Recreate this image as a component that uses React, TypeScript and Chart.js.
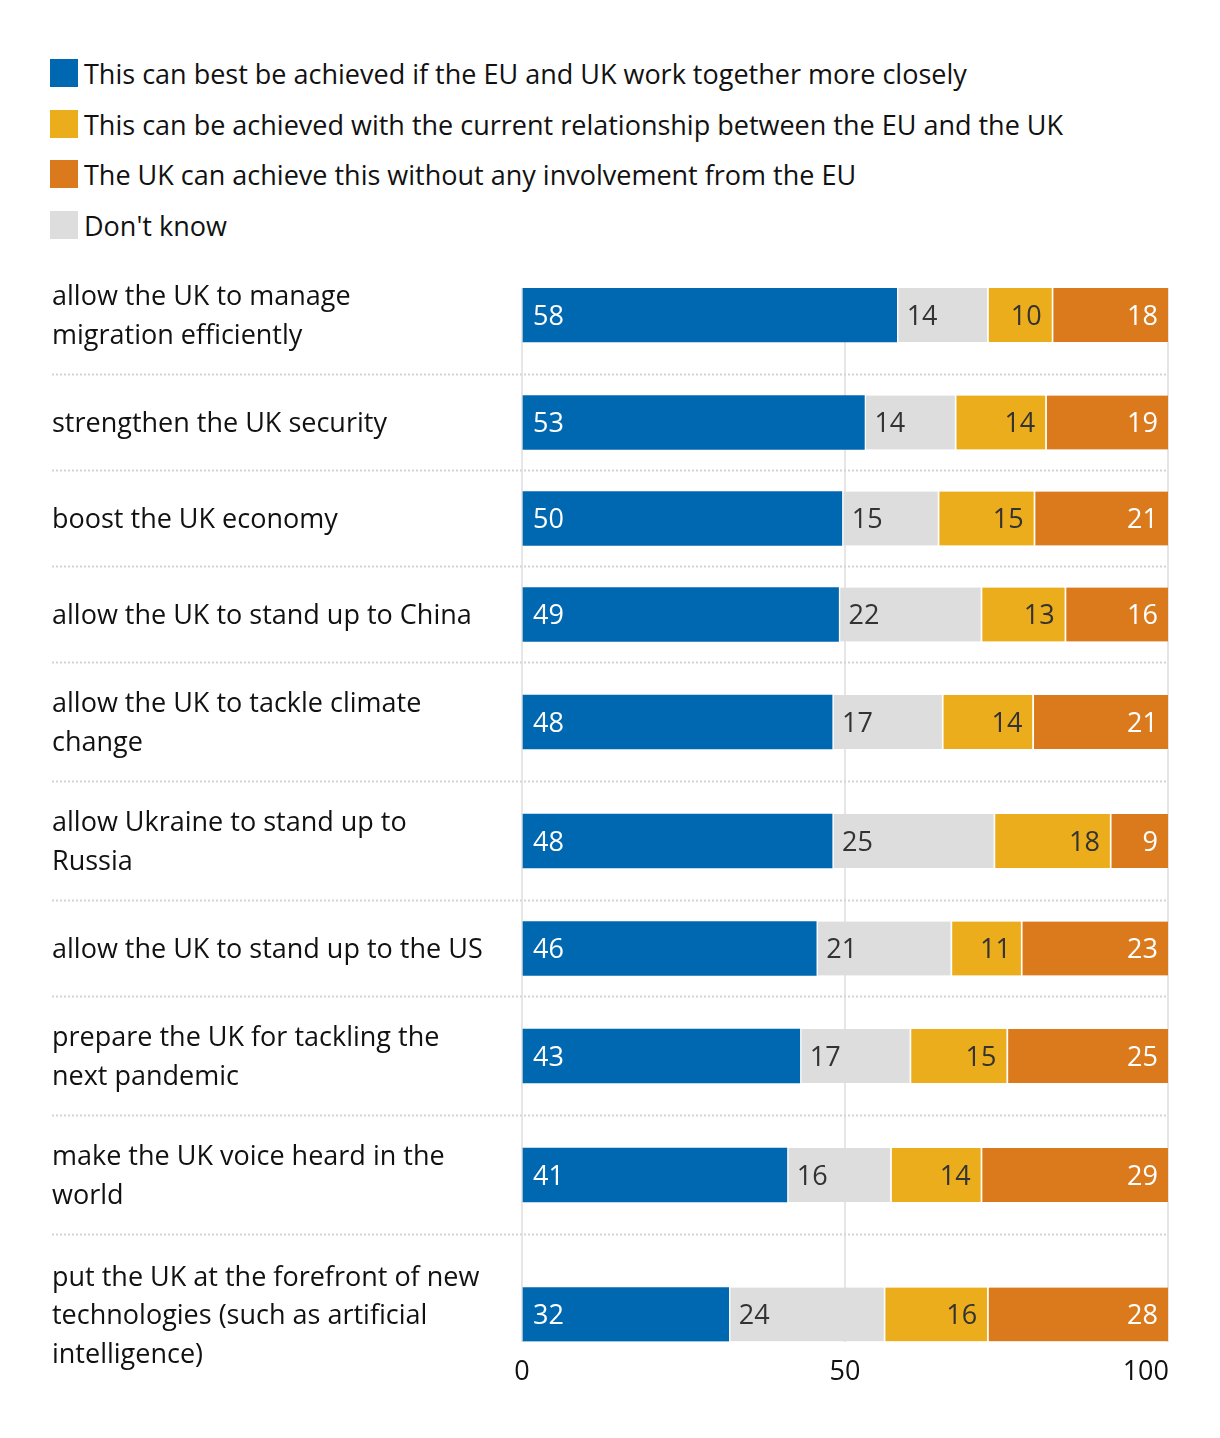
import React, { useEffect, useRef } from "react";
import { Chart, registerables } from "chart.js";

Chart.register(...registerables);

const FONT = "'Open Sans', 'Noto Sans', sans-serif";

// ---------- DATA ----------
const CATEGORIES: string[][] = [
  ["allow the UK to manage", "migration efficiently"],
  ["strengthen the UK security"],
  ["boost the UK economy"],
  ["allow the UK to stand up to China"],
  ["allow the UK to tackle climate", "change"],
  ["allow Ukraine to stand up to", "Russia"],
  ["allow the UK to stand up to the US"],
  ["prepare the UK for tackling the", "next pandemic"],
  ["make the UK voice heard in the", "world"],
  ["put the UK at the forefront of new", "technologies (such as artificial", "intelligence)"],
];

const WORK_CLOSER = [58, 53, 50, 49, 48, 48, 46, 43, 41, 32];
const DONT_KNOW = [14, 14, 15, 22, 17, 25, 21, 17, 16, 24];
const CURRENT_RELATIONSHIP = [10, 14, 15, 13, 14, 18, 11, 15, 14, 16];
const WITHOUT_EU = [18, 19, 21, 16, 21, 9, 23, 25, 29, 28];

const SERIES_LABELS = [
  "This can best be achieved if the EU and UK work together more closely",
  "Don't know",
  "This can be achieved with the current relationship between the EU and the UK",
  "The UK can achieve this without any involvement from the EU",
];
const SERIES_VALUES = [WORK_CLOSER, DONT_KNOW, CURRENT_RELATIONSHIP, WITHOUT_EU];
const SERIES_COLORS = ["#0068b0", "#dddddd", "#ecad1d", "#db7a1c"];
const LABEL_COLORS = ["#ffffff", "#333333", "#333333", "#ffffff"];
const LABEL_ALIGN: ("left" | "right")[] = ["left", "left", "right", "right"];
const LEGEND_ORDER = [0, 2, 3, 1];

const X_TICKS = [0, 50, 100];

// ---------- LAYOUT ----------
const W = 1220;
const H = 1438;
const ROW_HEIGHT_BY_LINES: Record<number, number> = { 1: 96, 2: 119, 3: 160 };
const BAR = 54;
const LINE_H = 38.5;

const rowHeights = CATEGORIES.map((c) => ROW_HEIGHT_BY_LINES[c.length]);
const rowStarts: number[] = [];
rowHeights.reduce((acc, h) => {
  rowStarts.push(acc);
  return acc + h;
}, 0);
const rowCenters = rowStarts.map((s, i) => s + rowHeights[i] / 2);
const Y_MIN = rowCenters[0] - BAR / 2;
const Y_MAX = rowCenters[rowCenters.length - 1] + BAR / 2;

const totals = CATEGORIES.map((_, i) => SERIES_VALUES.reduce((a, s) => a + s[i], 0));

const overlayPlugin = {
  id: "overlay",
  beforeDatasetsDraw(chart: any) {
    const ctx = chart.ctx;
    const y = chart.scales.y;
    ctx.save();
    ctx.strokeStyle = "#d4d4d4";
    ctx.lineWidth = 2;
    ctx.setLineDash([2, 2]);
    for (let i = 1; i < rowStarts.length; i++) {
      const py = Math.round(y.getPixelForValue(rowStarts[i])) - 0.5;
      ctx.beginPath();
      ctx.moveTo(52, py);
      ctx.lineTo(chart.chartArea.right, py);
      ctx.stroke();
    }
    ctx.restore();
  },
  afterDatasetsDraw(chart: any) {
    const ctx = chart.ctx;
    const y = chart.scales.y;
    const x = chart.scales.x;
    ctx.save();
    ctx.font = `27px ${FONT}`;
    ctx.textBaseline = "middle";
    // value labels
    chart.data.datasets.forEach((ds: any, k: number) => {
      const meta = chart.getDatasetMeta(k);
      meta.data.forEach((el: any, i: number) => {
        const left = Math.min(el.x, el.base);
        const right = Math.max(el.x, el.base);
        ctx.fillStyle = LABEL_COLORS[k];
        if (LABEL_ALIGN[k] === "left") {
          ctx.textAlign = "left";
          ctx.fillText(String(SERIES_VALUES[k][i]), left + 10, el.y + 2);
        } else {
          ctx.textAlign = "right";
          ctx.fillText(String(SERIES_VALUES[k][i]), right - 10, el.y + 2);
        }
      });
    });
    // category labels
    ctx.fillStyle = "#111111";
    ctx.textAlign = "left";
    CATEGORIES.forEach((lines, i) => {
      const cy = y.getPixelForValue(rowCenters[i]) + 2;
      const top = cy - ((lines.length - 1) * LINE_H) / 2;
      lines.forEach((ln, j) => ctx.fillText(ln, 52, top + j * LINE_H));
    });
    // x tick labels
    const ticks = x.ticks.map((t: any) => t.value);
    ticks.forEach((v: number, i: number) => {
      const px = x.getPixelForValue(v);
      ctx.textAlign = i === ticks.length - 1 ? "right" : "center";
      ctx.fillText(String(v), i === ticks.length - 1 ? px + 1 : px, 1372);
    });
    ctx.restore();
  },
};

export default function App() {
  const ref = useRef<HTMLCanvasElement | null>(null);

  useEffect(() => {
    if (!ref.current) return;
    const chart = new Chart(ref.current, {
      type: "bar",
      data: {
        datasets: SERIES_VALUES.map((vals, k) => ({
          label: SERIES_LABELS[k],
          data: vals.map((v, i) => ({ x: (v / totals[i]) * 100, y: rowCenters[i] })),
          backgroundColor: SERIES_COLORS[k],
          borderColor: "#ffffff",
          borderWidth: k === 0 ? 0 : { left: 2, right: 0, top: 0, bottom: 0 },
          borderSkipped: false,
          barThickness: BAR,
        })),
      },
      options: {
        indexAxis: "y",
        responsive: false,
        animation: false,
        layout: { padding: { left: 522, right: 52, top: 288, bottom: H - 288 - (Y_MAX - Y_MIN) } },
        plugins: { legend: { display: false }, tooltip: { enabled: false } },
        scales: {
          x: {
            type: "linear",
            min: 0,
            max: 100,
            stacked: true,
            afterBuildTicks: (s: any) => {
              s.ticks = X_TICKS.map((v) => ({ value: v }));
            },
            ticks: { display: false },
            grid: { color: "#e6e6e6", lineWidth: 2, drawTicks: false },
            border: { display: false },
            afterFit: (s: any) => {
              s.height = 0;
            },
          },
          y: {
            type: "linear",
            reverse: true,
            offset: false,
            min: Y_MIN,
            max: Y_MAX,
            stacked: true,
            display: false,
          },
        },
      } as any,
      plugins: [overlayPlugin],
    });
    return () => chart.destroy();
  }, []);

  return (
    <div style={{ position: "absolute", left: 0, top: 0, width: W, height: H, background: "#fff" }}>
      <div style={{ position: "absolute", left: 50, top: 59, fontFamily: FONT, fontSize: 27, color: "#111" }}>
        {LEGEND_ORDER.map((k) => (
          <div key={k} style={{ display: "flex", alignItems: "center", height: 28, marginBottom: 22.7 }}>
            <div style={{ width: 28, height: 28, background: SERIES_COLORS[k], marginRight: 6, flex: "none" }} />
            <span style={{ whiteSpace: "nowrap", lineHeight: "28px", position: "relative", top: 1 }}>{SERIES_LABELS[k]}</span>
          </div>
        ))}
      </div>
      <canvas ref={ref} width={W} height={H} style={{ position: "absolute", left: 0, top: 0, width: W, height: H }} />
    </div>
  );
}
